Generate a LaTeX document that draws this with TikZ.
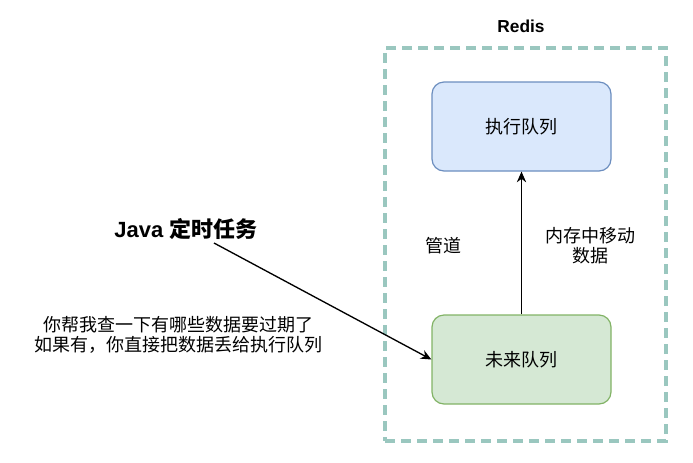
\documentclass[tikz,border=0pt]{standalone}
\usepackage{fontspec}
\setmainfont{Liberation Sans}
\newfontfamily\cjk{Noto Sans CJK SC}
\usetikzlibrary{arrows.meta}
\definecolor{redisc}{HTML}{9AC7BF}
\definecolor{bluefill}{HTML}{DAE8FC}
\definecolor{bluedraw}{HTML}{6C8EBF}
\definecolor{greenfill}{HTML}{D5E8D4}
\definecolor{greendraw}{HTML}{82B366}
\begin{document}
\begin{tikzpicture}[x=0.75pt,y=-0.75pt,
  queue/.style={rounded corners=9pt, minimum width=134.25pt, minimum height=66.75pt, line width=0.9pt, font=\cjk\fontsize{13.5}{15}\selectfont},
  lbl/.style={font=\cjk\fontsize{13.5}{15}\selectfont, align=center, inner sep=0pt},
  conn/.style={line width=1pt, -{Stealth[length=8pt,width=7pt]}}]
\useasboundingbox (0,0) rectangle (693,462);
\node[draw=redisc, line width=2.3pt, dash pattern=on 7.5pt off 4.5pt, minimum width=210.75pt, minimum height=294.75pt, inner sep=0pt] (redis) at (525.5,244.5) {};
\node[font=\bfseries\fontsize{13}{15}\selectfont] (redislbl) at (521,26) {Redis};
\node[queue, fill=bluefill, draw=bluedraw] (exec) at (521.5,126.5) {执行队列};
\node[queue, fill=greenfill, draw=greendraw] (future) at (521.5,359.5) {未来队列};
\draw[conn] (future.north) -- (exec.south);
\node[font=\bfseries\fontsize{16.5}{19}\selectfont] (java) at (186,229) {Java {\cjk 定时任务}};
\coordinate (jstart) at (214,243);
\draw[conn] (jstart) -- (future.west);
\node[lbl] (ask) at (178,335) {你帮我查一下有哪些数据要过期了\\如果有，你直接把数据丢给执行队列};
\node[lbl] (pipe) at (443,246) {管道};
\node[lbl] (move) at (590,246) {内存中移动\\数据};
\end{tikzpicture}
\end{document}
